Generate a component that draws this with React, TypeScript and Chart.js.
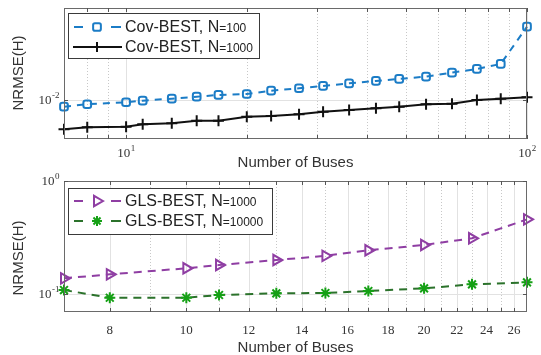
import React, { useEffect, useRef } from 'react';
import { Chart, registerables } from 'chart.js';

Chart.register(...registerables);

// ---------- data ----------
const busesTop = [7, 8, 10, 11, 13, 15, 17, 20, 23, 27, 31, 36, 42, 48, 56, 65, 75, 86, 100];
const covBestN100 = [0.00883, 0.00921, 0.00954, 0.00981, 0.01016, 0.01052, 0.01084, 0.01103, 0.01169, 0.0122,
  0.0127, 0.0133, 0.01387, 0.01436, 0.01496, 0.01605, 0.01713, 0.0187, 0.036];
const covBestN1000 = [0.00593, 0.00614, 0.00621, 0.00648, 0.00659, 0.0069, 0.0069, 0.0074, 0.00749, 0.00772,
  0.00808, 0.00833, 0.00858, 0.00883, 0.00921, 0.0093, 0.00993, 0.01016, 0.0104];

const busesBottom = [7, 8, 10, 11, 13, 15, 17, 20, 23, 27];
const glsBestN1000 = [0.1387, 0.1504, 0.17, 0.1816, 0.201, 0.219, 0.245, 0.273, 0.3125, 0.459];
const glsBestN10000 = [0.1093, 0.0935, 0.0935, 0.0988, 0.1023, 0.103, 0.1072, 0.1132, 0.1228, 0.1278];

const topXMajor = [10, 100];
const topXMajorLabels: [string, string][] = [['10', '1'], ['10', '2']];
const topXMinor = [8, 9, 20, 30, 40, 50, 60, 70, 80, 90];
const topYMajor = [0.01];
const topYMajorLabels: [string, string][] = [['10', '-2']];

const bottomXMajor = [8, 10, 12, 14, 16, 18, 20, 22, 24, 26];
const bottomXMinor = [9, 11, 13, 15, 17, 19, 21, 23, 25];
const bottomYMajor = [1, 0.1];
const bottomYMajorLabels: [string, string][] = [['10', '0'], ['10', '-1']];

const xTitle = 'Number of Buses';
const yTitle = 'NRMSE(H)';

// ---------- styles ----------
const BLUE = '#1b7cc6';
const BLACK = '#111111';
const PURPLE = '#8f3ea3';
const GREEN_LINE = '#2b722b';
const GREEN_PT = '#15a015';
const TEXT = '#333333';
const SANS = '"Liberation Sans", Arial, sans-serif';
const SERIF = '"Liberation Serif", "Times New Roman", serif';

type LegendItem = {
  text: string; small: string; color: string; dashed: boolean;
  marker: string; markerColor: string;
};

type SubCfg = {
  width: number; height: number; padTop: number; xAxisH: number;
  xMin: number; xMax: number; yMin: number; yMax: number;
  xMajor: number[]; xMajorLabels?: [string, string][]; xMajorText?: string[];
  xMinor: number[]; yMajor: number[]; yMajorLabels: [string, string][];
  xLabelBaseline: number; xTitleY: number; yTitleY: number;
  legendBox: [number, number, number, number]; legendRows: number[];
  legend: LegendItem[];
  datasets: any[];
};

function drawMarker(ctx: CanvasRenderingContext2D, style: string, x: number, y: number, r: number, color: string, lw: number) {
  ctx.save();
  ctx.setLineDash([]);
  ctx.strokeStyle = color;
  ctx.lineWidth = lw;
  ctx.beginPath();
  if (style === 'rectRounded') {
    const s = r * 0.86;
    (ctx as any).roundRect(x - s, y - s, 2 * s, 2 * s, r * 0.4);
  } else if (style === 'cross') {
    ctx.moveTo(x - r, y); ctx.lineTo(x + r, y);
    ctx.moveTo(x, y - r); ctx.lineTo(x, y + r);
  } else if (style === 'triangle') {
    ctx.moveTo(x + r, y);
    ctx.lineTo(x - r / 2, y - r * 0.866);
    ctx.lineTo(x - r / 2, y + r * 0.866);
    ctx.closePath();
  } else if (style === 'star') {
    for (let k = 0; k < 4; k++) {
      const a = (k * Math.PI) / 4;
      ctx.moveTo(x - Math.cos(a) * r, y - Math.sin(a) * r);
      ctx.lineTo(x + Math.cos(a) * r, y + Math.sin(a) * r);
    }
  }
  ctx.stroke();
  ctx.restore();
}

function drawPow(ctx: CanvasRenderingContext2D, base: string, exp: string, x: number, y: number, align: 'center' | 'right') {
  ctx.font = `13px ${SERIF}`;
  const w1 = ctx.measureText(base).width;
  ctx.font = `9px ${SERIF}`;
  const w2 = ctx.measureText(exp).width;
  const total = w1 + w2;
  const sx = align === 'center' ? x - total / 2 : x - total;
  ctx.textAlign = 'left';
  ctx.textBaseline = 'alphabetic';
  ctx.fillStyle = TEXT;
  ctx.font = `13px ${SERIF}`;
  ctx.fillText(base, sx, y);
  ctx.font = `9px ${SERIF}`;
  ctx.fillText(exp, sx + w1 + 0.5, y - 6);
}

function makePlugin(cfg: SubCfg) {
  return {
    id: 'subplotDecor',
    beforeDatasetsDraw(chart: any) {
      const { ctx, chartArea: a, scales } = chart;
      const xs = scales.x, ys = scales.y;
      ctx.save();
      ctx.strokeStyle = '#c8c8c8';
      ctx.lineWidth = 1;
      ctx.setLineDash([1, 2]);
      for (const v of cfg.xMinor) {
        const px = Math.round(xs.getPixelForValue(v)) + 0.5;
        ctx.beginPath(); ctx.moveTo(px, a.top); ctx.lineTo(px, a.bottom); ctx.stroke();
      }
      ctx.setLineDash([]);
      ctx.strokeStyle = '#e2e2e2';
      for (const v of cfg.xMajor) {
        const px = Math.round(xs.getPixelForValue(v)) + 0.5;
        ctx.beginPath(); ctx.moveTo(px, a.top); ctx.lineTo(px, a.bottom); ctx.stroke();
      }
      for (const v of cfg.yMajor) {
        const py = Math.round(ys.getPixelForValue(v)) + 0.5;
        ctx.beginPath(); ctx.moveTo(a.left, py); ctx.lineTo(a.right, py); ctx.stroke();
      }
      ctx.restore();
    },
    afterDatasetsDraw(chart: any) {
      const { ctx, chartArea: a, scales } = chart;
      const xs = scales.x, ys = scales.y;
      ctx.save();
      ctx.setLineDash([]);
      ctx.strokeStyle = '#6a6a6a';
      ctx.lineWidth = 1;
      ctx.strokeRect(a.left + 0.5, a.top + 0.5, a.right - a.left - 1, a.bottom - a.top - 1);
      ctx.strokeStyle = '#555';
      const tl = 4;
      for (const v of [...cfg.xMajor, ...cfg.xMinor]) {
        const px = Math.round(xs.getPixelForValue(v)) + 0.5;
        ctx.beginPath();
        ctx.moveTo(px, a.bottom); ctx.lineTo(px, a.bottom - tl);
        ctx.moveTo(px, a.top); ctx.lineTo(px, a.top + tl);
        ctx.stroke();
      }
      for (const v of cfg.yMajor) {
        const py = Math.round(ys.getPixelForValue(v)) + 0.5;
        ctx.beginPath();
        ctx.moveTo(a.left, py); ctx.lineTo(a.left + tl, py);
        ctx.moveTo(a.right, py); ctx.lineTo(a.right - tl, py);
        ctx.stroke();
      }
      cfg.xMajor.forEach((v, i) => {
        const px = xs.getPixelForValue(v);
        if (cfg.xMajorLabels) {
          const [b, e] = cfg.xMajorLabels[i];
          drawPow(ctx, b, e, px, cfg.xLabelBaseline, 'center');
        } else if (cfg.xMajorText) {
          ctx.font = `13px ${SERIF}`;
          ctx.fillStyle = TEXT;
          ctx.textAlign = 'center';
          ctx.textBaseline = 'alphabetic';
          ctx.fillText(cfg.xMajorText[i], px, cfg.xLabelBaseline);
        }
      });
      cfg.yMajor.forEach((v, i) => {
        const py = ys.getPixelForValue(v);
        const [b, e] = cfg.yMajorLabels[i];
        drawPow(ctx, b, e, a.left - 5, py + 4, 'right');
      });
      ctx.fillStyle = TEXT;
      ctx.font = `15px ${SANS}`;
      ctx.textAlign = 'center';
      ctx.textBaseline = 'middle';
      ctx.fillText(xTitle, (a.left + a.right) / 2, cfg.xTitleY);
      ctx.save();
      ctx.translate(19, cfg.yTitleY);
      ctx.rotate(-Math.PI / 2);
      ctx.fillText(yTitle, 0, 0);
      ctx.restore();
      const [bx0, by0, bx1, by1] = cfg.legendBox;
      ctx.fillStyle = '#ffffff';
      ctx.fillRect(bx0, by0, bx1 - bx0, by1 - by0);
      ctx.strokeStyle = '#3a3a3a';
      ctx.lineWidth = 1;
      ctx.strokeRect(bx0 + 0.5, by0 + 0.5, bx1 - bx0, by1 - by0);
      cfg.legend.forEach((item, i) => {
        const ry = cfg.legendRows[i];
        ctx.strokeStyle = item.color;
        ctx.lineWidth = 2;
        ctx.setLineDash([]);
        ctx.beginPath();
        if (item.dashed) {
          ctx.moveTo(bx0 + 6, ry); ctx.lineTo(bx0 + 15, ry);
          ctx.moveTo(bx0 + 43, ry); ctx.lineTo(bx0 + 53, ry);
        } else {
          ctx.moveTo(bx0 + 5, ry); ctx.lineTo(bx0 + 54, ry);
        }
        ctx.stroke();
        const ms = item.marker;
        drawMarker(ctx, ms, bx0 + 29, ry, ms === 'triangle' ? 6 : ms === 'rectRounded' ? 4.5 : 5, item.markerColor, 2);
        ctx.fillStyle = '#222';
        ctx.textAlign = 'left';
        ctx.textBaseline = 'middle';
        ctx.font = `16px ${SANS}`;
        const tx = bx0 + 57;
        ctx.fillText(item.text, tx, ry + 1);
        const w = ctx.measureText(item.text).width;
        ctx.font = `12px ${SANS}`;
        ctx.fillText(item.small, tx + w, ry + 2);
      });
      ctx.restore();
    },
  };
}

function buildChart(canvas: HTMLCanvasElement, cfg: SubCfg) {
  return new Chart(canvas, {
    type: 'line',
    data: { datasets: cfg.datasets },
    plugins: [makePlugin(cfg) as any],
    options: {
      animation: false,
      responsive: false,
      maintainAspectRatio: false,
      layout: { padding: { top: cfg.padTop, right: 14, left: 0, bottom: 0 } },
      plugins: { legend: { display: false }, tooltip: { enabled: false } },
      scales: {
        x: {
          type: 'logarithmic', min: cfg.xMin, max: cfg.xMax,
          ticks: { display: false }, grid: { display: false }, border: { display: false },
          afterFit: (s: any) => { s.height = cfg.xAxisH; },
        },
        y: {
          type: 'logarithmic', min: cfg.yMin, max: cfg.yMax,
          ticks: { display: false }, grid: { display: false }, border: { display: false },
          afterFit: (s: any) => { s.width = 64; },
        },
      },
    } as any,
  });
}

function ds(label: string, xs: number[], ys: number[], o: any) {
  return {
    label,
    data: xs.map((x, i) => ({ x, y: ys[i] })),
    clip: false,
    tension: 0,
    fill: false,
    ...o,
  };
}

export default function App() {
  const topRef = useRef<HTMLCanvasElement>(null);
  const botRef = useRef<HTMLCanvasElement>(null);

  useEffect(() => {
    const topCfg: SubCfg = {
      width: 541, height: 170, padTop: 8, xAxisH: 31,
      xMin: 7, xMax: 100, yMin: 0.005, yMax: 0.05,
      xMajor: topXMajor, xMajorLabels: topXMajorLabels, xMinor: topXMinor,
      yMajor: topYMajor, yMajorLabels: topYMajorLabels,
      xLabelBaseline: 157, xTitleY: 163, yTitleY: 73,
      legendBox: [68, 13, 259, 58], legendRows: [27, 47],
      legend: [
        { text: 'Cov-BEST, N', small: '=100', color: BLUE, dashed: true, marker: 'rectRounded', markerColor: BLUE },
        { text: 'Cov-BEST, N', small: '=1000', color: BLACK, dashed: false, marker: 'cross', markerColor: BLACK },
      ],
      datasets: [
        ds('Cov-BEST, N=100', busesTop, covBestN100, {
          borderColor: BLUE, borderWidth: 2, borderDash: [7, 6],
          pointStyle: 'rectRounded', pointRadius: 4.5, pointBorderWidth: 2,
          pointBorderColor: BLUE, pointBackgroundColor: 'rgba(0,0,0,0)',
        }),
        ds('Cov-BEST, N=1000', busesTop, covBestN1000, {
          borderColor: BLACK, borderWidth: 2,
          pointStyle: 'cross', pointRadius: 5.5, pointBorderWidth: 2,
          pointBorderColor: BLACK, pointBackgroundColor: BLACK,
        }),
      ],
    };
    const botCfg: SubCfg = {
      width: 541, height: 185, padTop: 11, xAxisH: 43,
      xMin: 7, xMax: 27, yMin: 0.07, yMax: 1,
      xMajor: bottomXMajor, xMajorText: bottomXMajor.map(String), xMinor: bottomXMinor,
      yMajor: bottomYMajor, yMajorLabels: bottomYMajorLabels,
      xLabelBaseline: 164, xTitleY: 178, yTitleY: 88,
      legendBox: [68, 18, 272, 64], legendRows: [31, 51],
      legend: [
        { text: 'GLS-BEST, N', small: '=1000', color: PURPLE, dashed: true, marker: 'triangle', markerColor: PURPLE },
        { text: 'GLS-BEST, N', small: '=10000', color: GREEN_LINE, dashed: true, marker: 'star', markerColor: GREEN_PT },
      ],
      datasets: [
        ds('GLS-BEST, N=1000', busesBottom, glsBestN1000, {
          borderColor: PURPLE, borderWidth: 2, borderDash: [8, 6],
          pointStyle: 'triangle', pointRotation: 90, pointRadius: 6, pointBorderWidth: 2,
          pointBorderColor: PURPLE, pointBackgroundColor: 'rgba(0,0,0,0)',
        }),
        ds('GLS-BEST, N=10000', busesBottom, glsBestN10000, {
          borderColor: GREEN_LINE, borderWidth: 2, borderDash: [8, 6],
          pointStyle: 'star', pointRadius: 5.5, pointBorderWidth: 2,
          pointBorderColor: GREEN_PT, pointBackgroundColor: GREEN_PT,
        }),
      ],
    };
    const c1 = buildChart(topRef.current!, topCfg);
    const c2 = buildChart(botRef.current!, botCfg);
    return () => { c1.destroy(); c2.destroy(); };
  }, []);

  return (
    <div style={{ position: 'absolute', left: 0, top: 0, width: 541, height: 355, background: '#fff' }}>
      <canvas ref={topRef} width={541} height={170} style={{ position: 'absolute', left: 0, top: 0, width: 541, height: 170 }} />
      <canvas ref={botRef} width={541} height={185} style={{ position: 'absolute', left: 0, top: 170, width: 541, height: 185 }} />
    </div>
  );
}
